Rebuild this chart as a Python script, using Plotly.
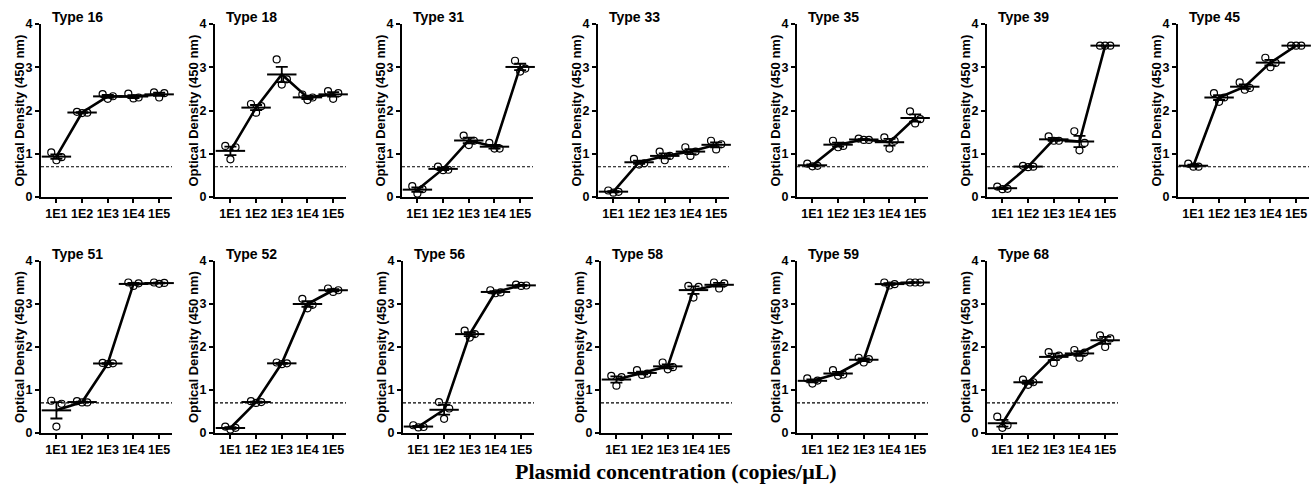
import numpy as np
import plotly.graph_objects as go

categories = ["1E1", "1E2", "1E3", "1E4", "1E5"]
types = ["Type 16", "Type 18", "Type 31", "Type 33", "Type 35", "Type 39", "Type 45",
         "Type 51", "Type 52", "Type 56", "Type 58", "Type 59", "Type 68"]
cutoff = 0.7

# replicate OD values per type: one list of 3 replicates per concentration
type16 = [[1.03, 0.85, 0.92], [1.97, 1.94, 1.95], [2.38, 2.27, 2.33], [2.39, 2.28, 2.30], [2.42, 2.30, 2.40]]
type18 = [[1.18, 0.87, 1.15], [2.15, 1.95, 2.10], [3.18, 2.60, 2.72], [2.37, 2.24, 2.30], [2.45, 2.27, 2.40]]
type31 = [[0.25, 0.08, 0.18], [0.70, 0.62, 0.63], [1.42, 1.20, 1.30], [1.25, 1.12, 1.12], [3.15, 2.90, 2.97]]
type33 = [[0.15, 0.10, 0.12], [0.88, 0.75, 0.78], [1.05, 0.85, 0.95], [1.15, 0.95, 1.05], [1.30, 1.10, 1.22]]
type35 = [[0.77, 0.71, 0.72], [1.30, 1.15, 1.18], [1.35, 1.32, 1.32], [1.38, 1.12, 1.30], [1.98, 1.70, 1.80]]
type39 = [[0.24, 0.18, 0.19], [0.72, 0.69, 0.70], [1.40, 1.30, 1.30], [1.52, 1.08, 1.25], [3.50, 3.50, 3.50]]
type45 = [[0.77, 0.70, 0.70], [2.40, 2.20, 2.30], [2.65, 2.48, 2.52], [3.22, 3.00, 3.10], [3.50, 3.50, 3.50]]
type51 = [[0.75, 0.15, 0.68], [0.74, 0.71, 0.71], [1.63, 1.60, 1.62], [3.50, 3.42, 3.48], [3.50, 3.47, 3.49]]
type52 = [[0.15, 0.08, 0.12], [0.74, 0.70, 0.72], [1.64, 1.60, 1.62], [3.12, 2.90, 2.98], [3.36, 3.28, 3.32]]
type56 = [[0.18, 0.13, 0.14], [0.72, 0.33, 0.57], [2.38, 2.22, 2.30], [3.32, 3.25, 3.27], [3.45, 3.42, 3.43]]
type58 = [[1.33, 1.10, 1.30], [1.46, 1.35, 1.38], [1.64, 1.48, 1.53], [3.42, 3.15, 3.40], [3.50, 3.36, 3.48]]
type59 = [[1.27, 1.15, 1.22], [1.46, 1.33, 1.36], [1.75, 1.64, 1.72], [3.50, 3.43, 3.46], [3.50, 3.50, 3.50]]
type68 = [[0.38, 0.12, 0.18], [1.24, 1.12, 1.18], [1.88, 1.63, 1.80], [1.93, 1.75, 1.87], [2.27, 2.00, 2.20]]

all_data = [type16, type18, type31, type33, type35, type39, type45,
            type51, type52, type56, type58, type59, type68]

# layout (pixels)
W, H = 1316, 488
lefts = [41, 215, 402, 598, 797, 987, 1178, 41, 215, 403, 601, 797, 987]
rows = [0] * 7 + [1] * 6
panel_w = 131
row_y = [(24, 197), (261, 433)]  # top (y=4), bottom (y=0) in px
jitter = [-0.2, 0.0, 0.2]

FONT = "Liberation Sans, Arial, sans-serif"
fig = go.Figure()
annotations = []
shapes = []

for i, (name, data) in enumerate(zip(types, all_data)):
    n = i + 1
    xa = "x" if n == 1 else f"x{n}"
    ya = "y" if n == 1 else f"y{n}"
    arr = np.array(data)
    means = arr.mean(axis=1)
    sems = arr.std(axis=1, ddof=1) / np.sqrt(arr.shape[1])
    xs = np.arange(len(categories))

    fig.add_trace(go.Scatter(x=xs, y=means, mode="lines", line=dict(color="black", width=2.6),
                             xaxis=xa, yaxis=ya, showlegend=False, hoverinfo="skip", cliponaxis=False))
    px_, py_ = [], []
    for j in range(len(categories)):
        for k in range(arr.shape[1]):
            px_.append(xs[j] + jitter[k])
            py_.append(arr[j, k])
    fig.add_trace(go.Scatter(x=px_, y=py_, mode="markers",
                             marker=dict(symbol="circle-open", size=7, color="black", line=dict(width=1.2)),
                             xaxis=xa, yaxis=ya, showlegend=False, cliponaxis=False))
    fig.add_trace(go.Scatter(x=xs, y=means, mode="markers",
                             marker=dict(symbol="line-ew", size=21, color="black", line=dict(width=2, color="black")),
                             error_y=dict(type="data", array=sems, visible=True, color="black", thickness=1.8, width=6),
                             xaxis=xa, yaxis=ya, showlegend=False, cliponaxis=False))

    top, bot = row_y[rows[i]]
    x0 = lefts[i] / W
    x1 = (lefts[i] + panel_w) / W
    y0 = (H - bot) / H
    y1 = (H - top) / H
    axis_common = dict(showline=True, linecolor="black", linewidth=2, ticks="outside", automargin=False,
                       tickcolor="black", tickwidth=1.8, ticklen=4, showgrid=False, zeroline=False)
    fig.update_layout(**{
        ("xaxis" if n == 1 else f"xaxis{n}"): dict(domain=[x0, x1], anchor=ya, range=[-0.6, 4.5],
                                                   tickvals=list(xs), ticktext=categories,
                                                   tickfont=dict(family=FONT, size=12.5, color="black", weight="bold"),
                                                   **axis_common),
        ("yaxis" if n == 1 else f"yaxis{n}"): dict(domain=[y0, y1], anchor=xa, range=[0, 4],
                                                   tickvals=[0, 1, 2, 3, 4],
                                                   tickfont=dict(family=FONT, size=12.5, color="black", weight="bold"),
                                                   **axis_common),
    })
    shapes.append(dict(type="line", xref=f"{xa} domain", yref=ya, x0=0, x1=1, y0=cutoff, y1=cutoff,
                       line=dict(color="black", width=1.1, dash="3px,2px")))
    annotations.append(dict(text=name, xref="paper", yref="paper", x=(lefts[i] + 9) / W,
                            y=(H - (top - 7)) / H, xanchor="left", yanchor="middle", showarrow=False,
                            font=dict(family=FONT, size=14, color="black", weight="bold")))
    annotations.append(dict(text="Optical Density (450 nm)", xref="paper", yref="paper",
                            x=(lefts[i] - 22) / W, y=(H - (top + bot) / 2) / H, textangle=-90,
                            xanchor="center", yanchor="middle", showarrow=False,
                            font=dict(family=FONT, size=13, color="black", weight="bold")))

annotations.append(dict(text="Plasmid concentration (copies/μL)", xref="paper", yref="paper",
                        x=676 / W, y=(H - 471) / H, xanchor="center", yanchor="middle", showarrow=False,
                        font=dict(family="Liberation Serif, Times New Roman, serif", size=22, color="black", weight="bold")))

fig.update_layout(template="none", width=W, height=H, margin=dict(l=0, r=0, t=0, b=0, pad=0),
                  plot_bgcolor="white", paper_bgcolor="white",
                  annotations=annotations, shapes=shapes)
fig.write_html("out.html", config={"displayModeBar": False},
               post_script="document.body.style.margin='0';")
